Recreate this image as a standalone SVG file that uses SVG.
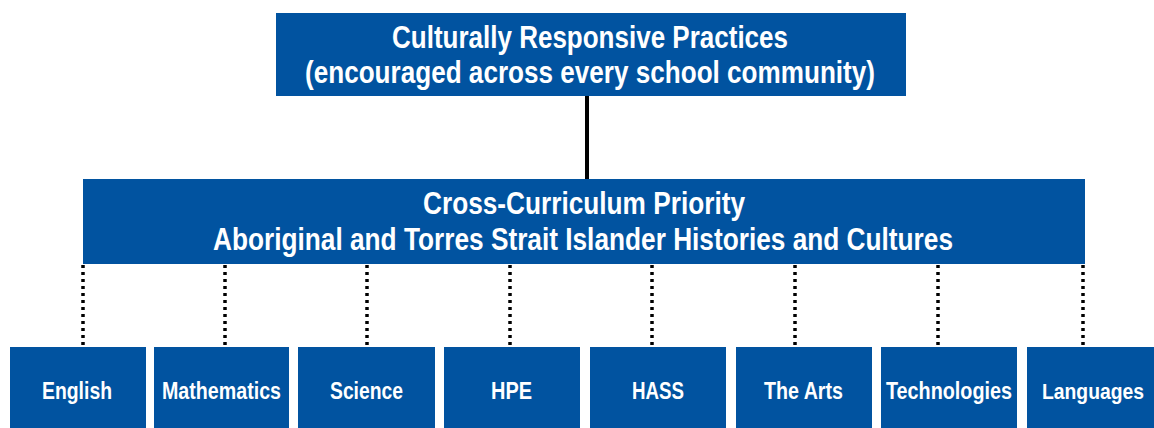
<svg xmlns="http://www.w3.org/2000/svg" width="1154" height="428" viewBox="0 0 1154 428">
  <style>
    .box { fill: #0153A0; }
    .t { fill: #ffffff; font-family: "Liberation Sans Narrow", "Liberation Sans", Arial, sans-serif; font-weight: bold; text-anchor: middle; }
    .big { font-size: 30.5px; }
    .small { font-size: 24px; }
    .solid { stroke: #000000; stroke-width: 4; fill: none; }
    .dot { stroke: #000000; stroke-width: 3.5; stroke-dasharray: 3 4; fill: none; }
  </style>
  <rect width="1154" height="428" fill="#ffffff"/>
  <g id="connectors">
    <line class="solid" x1="587" y1="96" x2="587" y2="179"/>
    <line class="dot" x1="83" y1="265" x2="83" y2="347"/>
    <line class="dot" x1="225" y1="265" x2="225" y2="347"/>
    <line class="dot" x1="367" y1="265" x2="367" y2="347"/>
    <line class="dot" x1="510" y1="265" x2="510" y2="347"/>
    <line class="dot" x1="652" y1="265" x2="652" y2="347"/>
    <line class="dot" x1="795" y1="265" x2="795" y2="347"/>
    <line class="dot" x1="938" y1="265" x2="938" y2="347"/>
    <line class="dot" x1="1083" y1="265" x2="1083" y2="347"/>
  </g>
  <g id="node-top">
    <rect class="box" x="276" y="13" width="630" height="83"/>
    <text class="t big" x="590" y="48" textLength="396" lengthAdjust="spacingAndGlyphs">Culturally Responsive Practices</text>
    <text class="t big" x="590" y="83" textLength="570" lengthAdjust="spacingAndGlyphs">(encouraged across every school community)</text>
  </g>
  <g id="node-priority">
    <rect class="box" x="83" y="179" width="1002" height="85"/>
    <text class="t big" x="584" y="214" textLength="322" lengthAdjust="spacingAndGlyphs">Cross-Curriculum Priority</text>
    <text class="t big" x="583" y="250" textLength="740" lengthAdjust="spacingAndGlyphs">Aboriginal and Torres Strait Islander Histories and Cultures</text>
  </g>
  <g id="node-english">
    <rect class="box" x="10" y="347" width="136" height="81"/>
    <text class="t small" x="77" y="399" textLength="70" lengthAdjust="spacingAndGlyphs">English</text>
  </g>
  <g id="node-mathematics">
    <rect class="box" x="154" y="347" width="135" height="81"/>
    <text class="t small" x="221.5" y="399" textLength="119" lengthAdjust="spacingAndGlyphs">Mathematics</text>
  </g>
  <g id="node-science">
    <rect class="box" x="298" y="347" width="137" height="81"/>
    <text class="t small" x="366.5" y="399" textLength="73" lengthAdjust="spacingAndGlyphs">Science</text>
  </g>
  <g id="node-hpe">
    <rect class="box" x="444" y="347" width="136" height="81"/>
    <text class="t small" x="511.5" y="399" textLength="41" lengthAdjust="spacingAndGlyphs">HPE</text>
  </g>
  <g id="node-hass">
    <rect class="box" x="590" y="347" width="136" height="81"/>
    <text class="t small" x="658" y="399" textLength="52" lengthAdjust="spacingAndGlyphs">HASS</text>
  </g>
  <g id="node-arts">
    <rect class="box" x="736" y="347" width="136" height="81"/>
    <text class="t small" x="803.5" y="399" textLength="79" lengthAdjust="spacingAndGlyphs">The Arts</text>
  </g>
  <g id="node-technologies">
    <rect class="box" x="881" y="347" width="136" height="81"/>
    <text class="t small" x="949" y="399" textLength="126" lengthAdjust="spacingAndGlyphs">Technologies</text>
  </g>
  <g id="node-languages">
    <rect class="box" x="1027" y="347" width="127" height="81"/>
    <text class="t" x="1093" y="399" font-size="21.5" textLength="102" lengthAdjust="spacingAndGlyphs">Languages</text>
  </g>
</svg>
